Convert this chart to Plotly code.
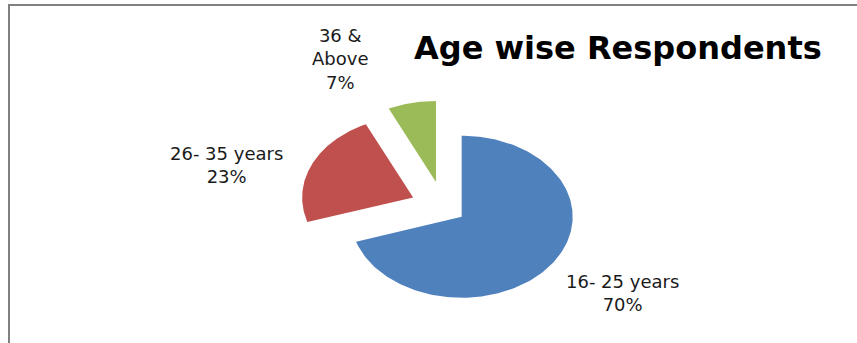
import numpy as np
import plotly.graph_objects as go

# ---- data ----
categories = ["16- 25 years", "26- 35 years", "36 & Above"]
label_text = ["16- 25 years", "26- 35 years", "36 &<br>Above"]
values = [70, 23, 7]
colors = ["#4F81BD", "#C0504D", "#9BBB59"]
pulls = [0.2, 0.3, 0.32]
title = "Age wise Respondents"

# ---- geometry/style (pixels) ----
W, H = 857, 343
RX, RY = 111.0, 81.0          # pixel size of one data unit in x and y (elliptical pie)
CX, CY = 443.7, 207.2         # pixel position of pie centre
label_pos = [(622, 293), (226, 165), (340, 59)]

fig = go.Figure()
total = float(sum(values))
start = 0.0
for cat, v, col, p in zip(categories, values, colors, pulls):
    frac = v / total
    a0, a1 = start * 2 * np.pi, (start + frac) * 2 * np.pi
    am = (a0 + a1) / 2
    ox, oy = p * np.sin(am), p * np.cos(am)
    th = np.linspace(a0, a1, 200)
    xs = np.concatenate([[ox], ox + np.sin(th), [ox]])
    ys = np.concatenate([[oy], oy + np.cos(th), [oy]])
    fig.add_trace(go.Scatter(x=xs, y=ys, mode="lines", fill="toself",
                             fillcolor=col, line=dict(width=0, color=col),
                             hoverinfo="skip", name=cat, showlegend=False))
    start += frac

for txt, v, (px, py) in zip(label_text, values, label_pos):
    pct = round(v / total * 100)
    fig.add_annotation(text=f"{txt}<br>{pct}%", xref="paper", yref="paper",
                       x=px / W, y=1 - py / H, xanchor="center", yanchor="middle",
                       showarrow=False, align="center",
                       font=dict(family="DejaVu Sans", size=18, color="#1a1a1a"))

fig.add_annotation(text=f"<b>{title}</b>", xref="paper", yref="paper",
                   x=618 / W, y=1 - 48 / H, xanchor="center", yanchor="middle",
                   showarrow=False,
                   font=dict(family="DejaVu Sans", size=32, color="#000000"))

# chart border (top and left edges visible)
fig.add_shape(type="line", xref="paper", yref="paper",
              x0=8 / W, x1=1, y0=1 - 5 / H, y1=1 - 5 / H,
              line=dict(color="#808080", width=2))
fig.add_shape(type="line", xref="paper", yref="paper",
              x0=9 / W, x1=9 / W, y0=1 - 5 / H, y1=0,
              line=dict(color="#808080", width=2))

fig.update_layout(
    width=W, height=H, margin=dict(l=0, r=0, t=0, b=0),
    paper_bgcolor="white", plot_bgcolor="white",
    xaxis=dict(visible=False, range=[-CX / RX, (W - CX) / RX], fixedrange=True),
    yaxis=dict(visible=False, range=[-(H - CY) / RY, CY / RY], fixedrange=True),
    showlegend=False,
)
fig.write_html("out.html")
